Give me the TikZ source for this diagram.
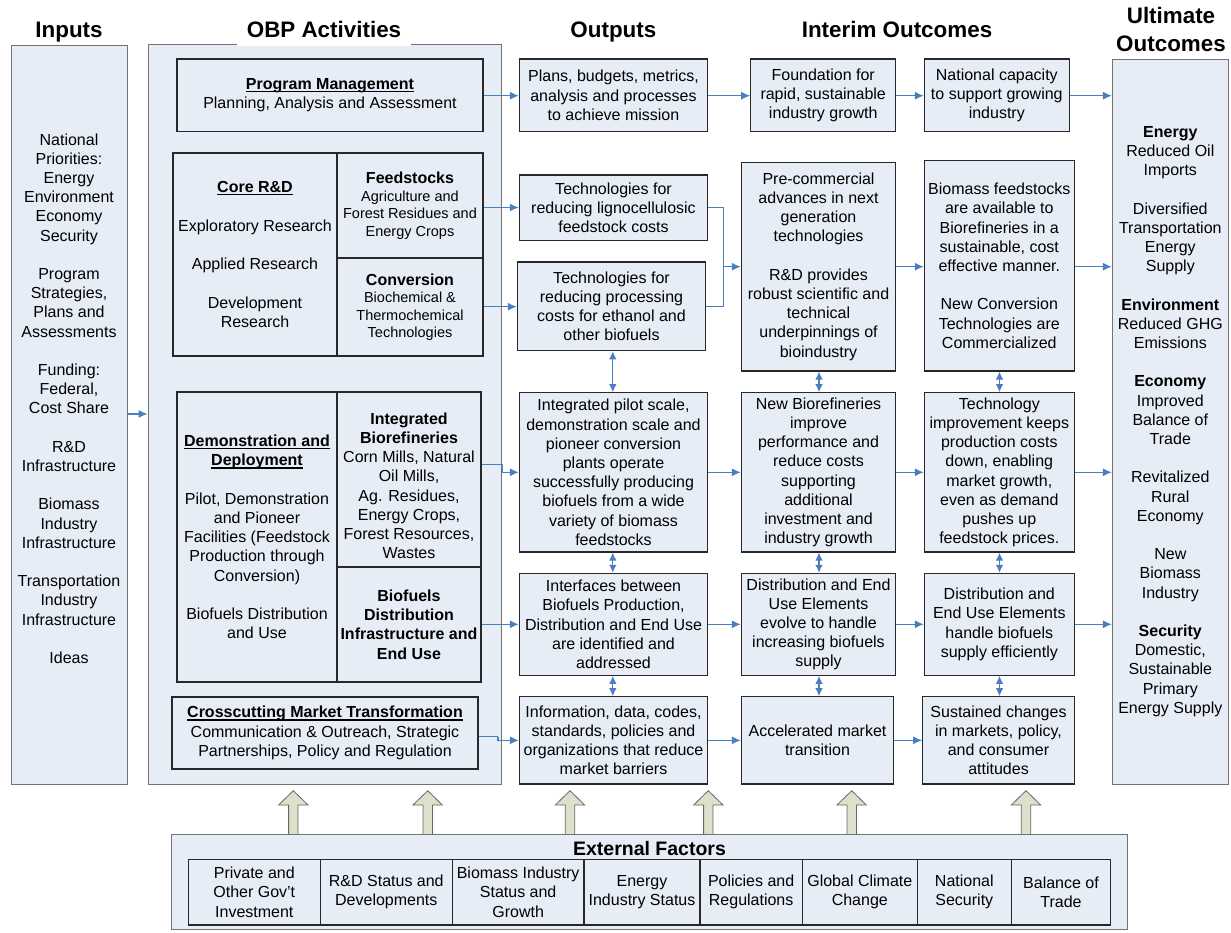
\documentclass[tikz,border=0pt]{standalone}
\usepackage{fontspec}
\setmainfont{Liberation Sans}
\usetikzlibrary{arrows.meta}
\definecolor{boxfill}{RGB}{231,237,247}
\definecolor{arrblue}{RGB}{74,126,193}
\definecolor{hollowfill}{RGB}{222,224,203}
\definecolor{outerline}{RGB}{115,115,115}
\definecolor{innerline}{RGB}{40,40,40}
\newsavebox\myulbox
\newcommand\myul[1]{\sbox\myulbox{#1}\rlap{\rule[-2.6pt]{\wd\myulbox}{1.1pt}}\usebox\myulbox}
\newcommand\smf{\fontsize{14.5}{17.4}\selectfont}
\newcommand\mybox[7]{\node[#6, minimum width={#4-#2}, minimum height={#5-#3}] (#1) at ({(#2+#4)/2},{(#3+#5)/2}) {#7};}
\begin{document}
\begin{tikzpicture}[x=1pt,y=-1pt,
  every node/.style={font=\fontsize{16}{19.2}\selectfont, align=center, inner sep=0pt},
  obox/.style={draw=outerline, fill=boxfill, line width=1pt},
  ibox/.style={draw=innerline, fill=boxfill, line width=1.1pt},
  conn/.style={draw=arrblue, line width=1.1pt},
  arr/.style={conn, -{Latex[length=9pt,width=8pt]}},
  darr/.style={conn, {Latex[length=8pt,width=7.5pt]}-{Latex[length=8pt,width=7.5pt]}},
  ttl/.style={font=\fontsize{22.4}{28}\selectfont\bfseries},
  hol/.style={draw=black!60, fill=hollowfill, line width=0.8pt}]
\useasboundingbox (0,0) rectangle (1231,932);

% big column boxes
\mybox{inputs}{11}{45}{127}{784}{obox}{}
\mybox{obp}{148}{44}{501.5}{784}{obox}{}
\mybox{ult}{1112.3}{59}{1228.3}{784}{obox}{\textbf{Energy}\\Reduced Oil\\Imports\\[19.2pt]Diversified\\Transportation\\Energy\\Supply\\[19.2pt]\textbf{Environment}\\Reduced GHG\\Emissions\\[19.2pt]\textbf{Economy}\\Improved\\Balance of\\Trade\\[19.2pt]Revitalized\\Rural\\Economy\\[19.2pt]New\\Biomass\\Industry\\[19.2pt]\textbf{Security}\\Domestic,\\Sustainable\\Primary\\Energy Supply}

\node (inputsText) at (69,398.5) {National\\Priorities:\\Energy\\Environment\\Economy\\Security\\[19.2pt]Program\\Strategies,\\Plans and\\Assessments\\[19.2pt]Funding:\\Federal,\\Cost Share\\[19.2pt]R\&D\\Infrastructure\\[19.2pt]Biomass\\Industry\\Infrastructure\\[19.2pt]Transportation\\Industry\\Infrastructure\\[19.2pt]Ideas};

% titles
\node[ttl, anchor=base] (tIn) at (69,37) {Inputs};
\node[ttl, anchor=base, fill=white, minimum width=174, text height=17, text depth=9] (tObp) at (324,37) {OBP Activities};
\node[ttl, anchor=base] (tOut) at (613.4,37) {Outputs};
\node[ttl, anchor=base] (tInt) at (897,37) {Interim Outcomes};
\node[ttl] (tUlt) at (1171,29.3) {Ultimate\\Outcomes};

% activities
\mybox{pm}{177}{59}{483}{131.7}{ibox}{\myul{\textbf{Program Management}}\\Planning, Analysis and Assessment}
\mybox{core}{173}{153}{337}{356}{ibox}{\myul{\textbf{Core R\&D}}\\[19.2pt]Exploratory Research\\[19.2pt]Applied Research\\[19.2pt]Development\\Research}
\mybox{feed}{337}{153}{483}{258}{ibox}{\textbf{Feedstocks}\\[-1.7pt]{\smf Agriculture and}\\[-1.7pt]{\smf Forest Residues and}\\[-1.7pt]{\smf Energy Crops}}
\mybox{conv}{337}{258}{483}{356}{ibox}{\textbf{Conversion}\\[-1.7pt]{\smf Biochemical \&}\\[-1.7pt]{\smf Thermochemical}\\[-1.7pt]{\smf Technologies}}
\mybox{demo}{177}{392}{337}{682}{ibox}{\myul{\textbf{Demonstration and}}\\\myul{\textbf{Deployment}}\\[19.2pt]Pilot, Demonstration\\and Pioneer\\Facilities (Feedstock\\Production through\\Conversion)\\[19.2pt]Biofuels Distribution\\and Use}
\mybox{ibr}{337}{392}{481}{567}{ibox}{}
\node (ibrText) at (409,485.8) {\textbf{Integrated}\\\textbf{Biorefineries}\\Corn Mills, Natural\\Oil Mills,\\Ag. Residues,\\Energy Crops,\\Forest Resources,\\Wastes};
\mybox{bdist}{337}{567}{481}{682}{ibox, font=\fontsize{16}{19.2}\selectfont\bfseries}{Biofuels\\Distribution\\Infrastructure and\\End Use}
\mybox{cross}{172}{697}{478}{769}{ibox}{\myul{\textbf{Crosscutting Market Transformation}}\\Communication \& Outreach, Strategic\\Partnerships, Policy and Regulation}

% outputs and outcomes
\mybox{plans}{519.3}{59}{707.7}{131.7}{ibox}{Plans, budgets, metrics,\\analysis and processes\\to achieve mission}
\mybox{found}{750.7}{59}{895.7}{131.7}{ibox}{Foundation for\\rapid, sustainable\\industry growth}
\mybox{natcap}{924.3}{59}{1069.3}{131.7}{ibox}{National capacity\\to support growing\\industry}
\mybox{techfeed}{519.3}{175}{707.7}{240.3}{ibox}{Technologies for\\reducing lignocellulosic\\feedstock costs}
\mybox{techproc}{517.3}{262}{705.7}{350.7}{ibox}{Technologies for\\reducing processing\\costs for ethanol and\\other biofuels}
\mybox{precomm}{741.3}{162.3}{895.7}{371}{ibox}{Pre-commercial\\advances in next\\generation\\technologies\\[19.2pt]R\&D provides\\robust scientific and\\technical\\underpinnings of\\bioindustry}
\mybox{biomass}{924.3}{160.7}{1074.3}{371}{ibox}{Biomass feedstocks\\are available to\\Biorefineries in a\\sustainable, cost\\effective manner.\\[19.2pt]New Conversion\\Technologies are\\Commercialized}
\mybox{pilot}{519.3}{392.7}{707.7}{552}{ibox}{Integrated pilot scale,\\demonstration scale and\\pioneer conversion\\plants operate\\successfully producing\\biofuels from a wide\\variety of biomass\\feedstocks}
\mybox{newbio}{741.3}{392.7}{895.7}{552}{ibox}{New Biorefineries\\improve\\performance and\\reduce costs\\supporting\\additional\\investment and\\industry growth}
\mybox{techimp}{924.3}{392.7}{1074.3}{552}{ibox}{Technology\\improvement keeps\\production costs\\down, enabling\\market growth,\\even as demand\\pushes up\\feedstock prices.}
\mybox{interf}{519.3}{573.3}{707.7}{675.3}{ibox}{Interfaces between\\Biofuels Production,\\Distribution and End Use\\are identified and\\addressed}
\mybox{distev}{741.3}{573.3}{895.7}{675.3}{ibox}{Distribution and End\\Use Elements\\evolve to handle\\increasing biofuels\\supply}
\mybox{disthd}{924.3}{573.3}{1074.3}{675.3}{ibox}{Distribution and\\End Use Elements\\handle biofuels\\supply efficiently}
\mybox{info}{519.3}{696.7}{707.7}{784}{ibox}{Information, data, codes,\\standards, policies and\\organizations that reduce\\market barriers}
\mybox{accel}{741.3}{696.7}{893.7}{784}{ibox}{Accelerated market\\transition}
\mybox{sust}{922.7}{696.7}{1074.3}{784}{ibox}{Sustained changes\\in markets, policy,\\and consumer\\attitudes}

% external factor arrows
\foreach \cx in {293.3,427.7,570,708.3,851.7,1026}{
  \draw[hol] (\cx-4.7,834) -- (\cx-4.7,805) -- (\cx-14.7,805) -- (\cx,790.7) -- (\cx+14.7,805) -- (\cx+4.7,805) -- (\cx+4.7,834);
}

% external factors
\mybox{ext}{171.7}{834}{1127.3}{929.5}{obox}{}
\node[font=\fontsize{19.5}{23}\selectfont\bfseries] (extT) at (649.5,848.3) {External Factors};
\mybox{e1}{188.3}{859.3}{320.3}{925}{ibox}{Private and\\Other Gov't\\Investment}
\mybox{e2}{320.3}{859.3}{452.3}{925}{ibox}{R\&D Status and\\Developments}
\mybox{e3}{452.3}{859.3}{584}{925}{ibox}{Biomass Industry\\Status and\\Growth}
\mybox{e4}{584}{859.3}{700}{925}{ibox}{Energy\\Industry Status}
\mybox{e5}{700}{859.3}{802.3}{925}{ibox}{Policies and\\Regulations}
\mybox{e6}{802.3}{859.3}{917.3}{925}{ibox}{Global Climate\\Change}
\mybox{e7}{917.3}{859.3}{1011.3}{925}{ibox}{National\\Security}
\mybox{e8}{1011.3}{859.3}{1110.7}{925}{ibox}{Balance of\\Trade}

% helper coordinates
\coordinate (rIn) at (0,414);
\coordinate (r1) at (0,95.7);
\coordinate (rF) at (0,207.5);
\coordinate (rC) at (0,306.7);
\coordinate (rP) at (0,266.7);
\coordinate (rIB) at (0,464.3);
\coordinate (r3) at (0,472.3);
\coordinate (r4) at (0,624.3);
\coordinate (rX) at (0,736.7);
\coordinate (r5) at (0,740.3);
\coordinate (c1) at (612.8,0);
\coordinate (c2) at (819,0);
\coordinate (c3) at (999.5,0);
\coordinate (j1) at (723.5,266.7);
\coordinate (j2) at (502.3,464.3);
\coordinate (j3) at (498,736.7);

% connectors
\draw[arr] (inputs.east |- rIn) -- (obp.west |- rIn);
\draw[arr] (pm.east |- r1) -- (plans.west |- r1);
\draw[arr] (plans.east |- r1) -- (found.west |- r1);
\draw[arr] (found.east |- r1) -- (natcap.west |- r1);
\draw[arr] (natcap.east |- r1) -- (ult.west |- r1);
\draw[arr] (feed.east |- rF) -- (techfeed.west |- rF);
\draw[arr] (conv.east |- rC) -- (techproc.west |- rC);
\draw[conn] (techfeed.east |- rF) -| (j1);
\draw[conn] (techproc.east |- rC) -| (j1);
\draw[arr] (j1) -- (precomm.west |- rP);
\draw[arr] (precomm.east |- rP) -- (biomass.west |- rP);
\draw[arr] (biomass.east |- rP) -- (ult.west |- rP);
\draw[conn] (ibr.east |- rIB) -- (j2);
\draw[arr] (j2) |- (pilot.west |- r3);
\draw[arr] (pilot.east |- r3) -- (newbio.west |- r3);
\draw[arr] (newbio.east |- r3) -- (techimp.west |- r3);
\draw[arr] (techimp.east |- r3) -- (ult.west |- r3);
\draw[arr] (bdist.east |- r4) -- (interf.west |- r4);
\draw[arr] (interf.east |- r4) -- (distev.west |- r4);
\draw[arr] (distev.east |- r4) -- (disthd.west |- r4);
\draw[arr] (disthd.east |- r4) -- (ult.west |- r4);
\draw[conn] (cross.east |- rX) -- (j3);
\draw[arr] (j3) |- (info.west |- r5);
\draw[arr] (info.east |- r5) -- (accel.west |- r5);
\draw[arr] (accel.east |- r5) -- (sust.west |- r5);
\draw[darr] (techproc.south -| c1) -- (pilot.north -| c1);
\draw[darr] (precomm.south -| c2) -- (newbio.north -| c2);
\draw[darr] (biomass.south -| c3) -- (techimp.north -| c3);
\draw[darr] (pilot.south -| c1) -- (interf.north -| c1);
\draw[darr] (newbio.south -| c2) -- (distev.north -| c2);
\draw[darr] (techimp.south -| c3) -- (disthd.north -| c3);
\draw[darr] (interf.south -| c1) -- (info.north -| c1);
\draw[darr] (distev.south -| c2) -- (accel.north -| c2);
\draw[darr] (disthd.south -| c3) -- (sust.north -| c3);
\end{tikzpicture}
\end{document}
